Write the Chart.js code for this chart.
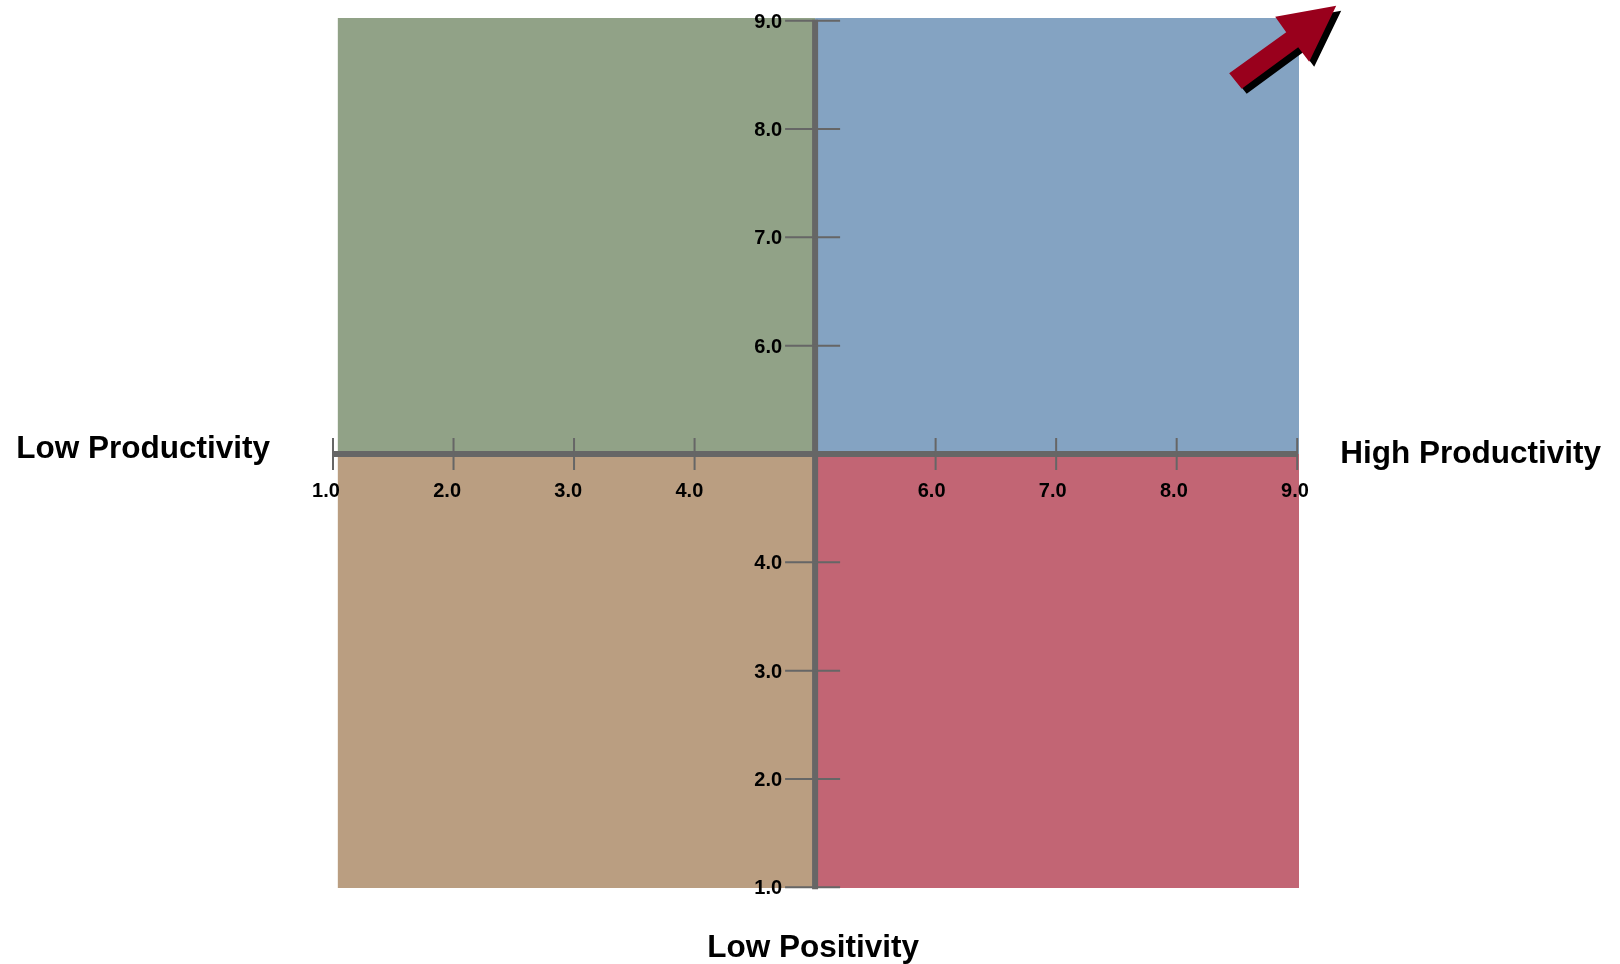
<!DOCTYPE html>
<html>
<head>
<meta charset="utf-8">
<title>Productivity / Positivity quadrant</title>
<script src="https://cdn.jsdelivr.net/npm/chart.js@4.4.1/dist/chart.umd.min.js"></script>
<style>
  html, body { margin: 0; padding: 0; background: #ffffff; }
  #wrap { width: 1620px; height: 964px; }
</style>
</head>
<body>
<div id="wrap"><canvas id="chart" width="1620" height="964"></canvas></div>
<script>
// Axis range and tick values
const axisMin = 1;
const axisMax = 9;
const axisCross = 5;
const xTickValues = [1, 2, 3, 4, 6, 7, 8, 9];
const yTickValues = [9, 8, 7, 6, 4, 3, 2, 1];
const xTickLabels = xTickValues.map(v => v.toFixed(1));
const yTickLabels = yTickValues.map(v => v.toFixed(1));

// Quadrant boundaries (value units) and fills
const quadrantXEdges = [1.04, 5, 9.015];
const quadrantYEdges = [0.994, 5, 9.025];
const quadrantColors = {
  topLeft: '#91a287',
  topRight: '#84a3c2',
  bottomLeft: '#ba9e81',
  bottomRight: '#c26574'
};

// Axis titles
const leftTitle = 'Low Productivity';
const rightTitle = 'High Productivity';
const bottomTitle = 'Low Positivity';

const FONT = '"Liberation Sans", Arial, Helvetica, sans-serif';
const AXIS_COLOR = '#666666';

function rectPoints(x0, x1, y0, y1) {
  return [
    { x: x0, y: y0 }, { x: x1, y: y0 }, { x: x1, y: y1 }, { x: x0, y: y1 }, { x: x0, y: y0 }
  ];
}

function quadrant(label, xi, yi, color) {
  return {
    label,
    data: rectPoints(quadrantXEdges[xi], quadrantXEdges[xi + 1], quadrantYEdges[yi], quadrantYEdges[yi + 1]),
    showLine: true,
    fill: 'shape',
    backgroundColor: color,
    borderColor: color,
    borderWidth: 0,
    pointRadius: 0,
    pointHoverRadius: 0,
    tension: 0,
    clip: false
  };
}

// Axes crossing at the centre, with ticks straddling each line, labels, titles and the arrow
const crossAxesPlugin = {
  id: 'crossAxes',
  afterDatasetsDraw(chart) {
    const { ctx, scales } = chart;
    const xs = scales.x, ys = scales.y;
    const cx = xs.getPixelForValue(axisCross);
    const cy = ys.getPixelForValue(axisCross);
    const left = xs.getPixelForValue(axisMin), right = xs.getPixelForValue(axisMax);
    const top = ys.getPixelForValue(axisMax), bottom = ys.getPixelForValue(axisMin);

    ctx.save();

    // main axis lines
    ctx.strokeStyle = AXIS_COLOR;
    ctx.lineCap = 'butt';
    ctx.lineWidth = 6;
    ctx.beginPath();
    ctx.moveTo(left, cy); ctx.lineTo(right, cy);
    ctx.moveTo(cx, top - 1); ctx.lineTo(cx, bottom + 2);
    ctx.stroke();

    // tick marks
    ctx.lineWidth = 2;
    ctx.beginPath();
    xTickValues.forEach(v => {
      const px = xs.getPixelForValue(v);
      ctx.moveTo(px, cy - 16); ctx.lineTo(px, cy + 16);
    });
    yTickValues.forEach(v => {
      const py = ys.getPixelForValue(v);
      ctx.moveTo(cx - 30, py); ctx.lineTo(cx + 25, py);
    });
    ctx.stroke();

    // tick labels
    ctx.fillStyle = '#000000';
    ctx.font = 'bold 20px ' + FONT;
    ctx.textBaseline = 'alphabetic';
    ctx.textAlign = 'center';
    xTickValues.forEach((v, i) => {
      const shift = -7 + 0.6 * (v - axisMin);
      ctx.fillText(xTickLabels[i], xs.getPixelForValue(v) + shift, cy + 43);
    });
    ctx.textAlign = 'right';
    yTickValues.forEach((v, i) => {
      ctx.fillText(yTickLabels[i], cx - 33, ys.getPixelForValue(v) + 7);
    });

    // axis titles
    ctx.font = 'bold 31.5px ' + FONT;
    ctx.textAlign = 'right';
    ctx.fillText(leftTitle, left - 63, cy + 4);
    ctx.textAlign = 'left';
    ctx.fillText(rightTitle, right + 43, cy + 9);
    ctx.textAlign = 'center';
    ctx.fillText(bottomTitle, cx - 2, bottom + 70);

    // arrow at the top-right corner, with a drop shadow
    const arrowShape = [
      [39, -15], [-22, -4], [-11, 11.5], [-68, 52.5], [-55.5, 68], [1, 26.5], [12, 41]
    ];
    const drawArrow = (dx, dy, color) => {
      ctx.fillStyle = color;
      ctx.beginPath();
      arrowShape.forEach(([ax, ay], i) => {
        const px = right + ax + dx, py = top + ay + dy;
        if (i === 0) ctx.moveTo(px, py); else ctx.lineTo(px, py);
      });
      ctx.closePath();
      ctx.fill();
    };
    drawArrow(5, 5, '#000000');
    drawArrow(0, 0, '#99001c');

    ctx.restore();
  }
};

new Chart(document.getElementById('chart'), {
  type: 'scatter',
  data: {
    datasets: [
      quadrant('topLeft', 0, 1, quadrantColors.topLeft),
      quadrant('topRight', 1, 1, quadrantColors.topRight),
      quadrant('bottomLeft', 0, 0, quadrantColors.bottomLeft),
      quadrant('bottomRight', 1, 0, quadrantColors.bottomRight)
    ]
  },
  options: {
    responsive: false,
    animation: false,
    events: [],
    // the plotting area spans the full quadrant extent so the fills are not clipped
    layout: { padding: { left: 333, right: 321, top: 18, bottom: 76 } },
    plugins: {
      legend: { display: false },
      tooltip: { enabled: false },
      title: { display: false }
    },
    scales: {
      x: { type: 'linear', min: axisMin, max: quadrantXEdges[2], display: false },
      y: { type: 'linear', min: quadrantYEdges[0], max: quadrantYEdges[2], display: false }
    }
  },
  plugins: [crossAxesPlugin]
});
</script>
</body>
</html>
